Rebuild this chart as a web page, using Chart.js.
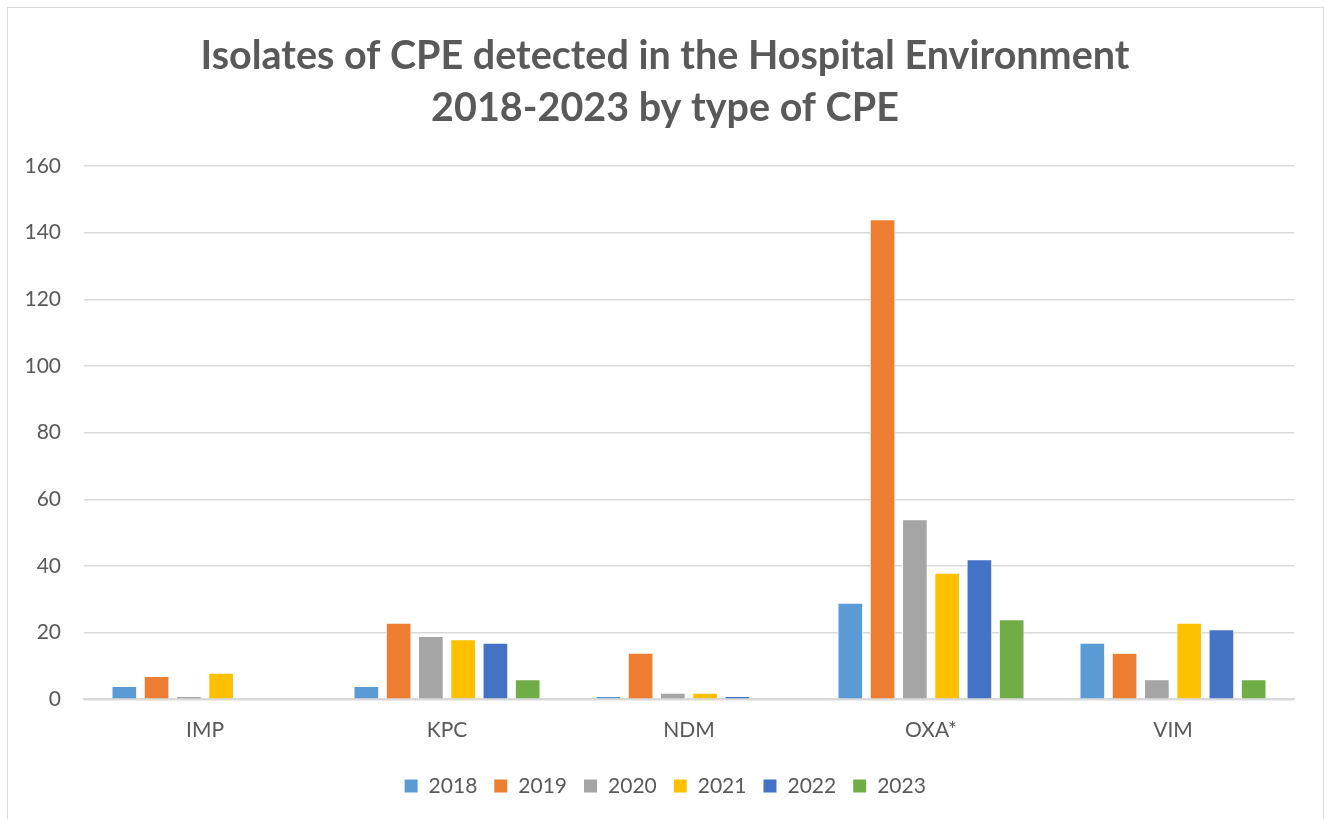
<!DOCTYPE html>
<html lang="en">
<head>
    <meta charset="UTF-8">
    <title>Isolates of CPE detected in the Hospital Environment</title>
    <script src="https://cdn.jsdelivr.net/npm/chart.js"></script>
    <style>
        body {
            margin: 0;
            background-color: #ffffff;
            overflow: hidden;
        }
        .frame {
            position: absolute;
            left: 7px;
            top: 7px;
            width: 1315px;
            height: 830px;
            border: 1px solid #d9d9d9;
        }
        .chart-box {
            position: absolute;
            left: 0;
            top: 0;
            width: 1314px;
            height: 811px;
        }
    </style>
</head>
<body>
    <div class="frame">
        <div class="chart-box">
            <canvas id="barChart"></canvas>
        </div>
    </div>

    <script>
        // categories and series
        const types = ["IMP", "KPC", "NDM", "OXA*", "VIM"];
        const years = ["2018", "2019", "2020", "2021", "2022", "2023"];
        const colors = ["#5b9bd5", "#ed7d31", "#a5a5a5", "#ffc000", "#4472c4", "#70ad47"];

        const y2018 = [4, 4, 1, 29, 17];
        const y2019 = [7, 23, 14, 144, 14];
        const y2020 = [1, 19, 2, 54, 6];
        const y2021 = [8, 18, 2, 38, 23];
        const y2022 = [0, 17, 1, 42, 21];
        const y2023 = [0, 6, 0, 24, 6];

        const yTicks = [0, 20, 40, 60, 80, 100, 120, 140, 160];

        const series = [y2018, y2019, y2020, y2021, y2022, y2023];

        const fontName = "Lato, 'Open Sans', sans-serif";
        const textColor = '#595959';

        // center title and legend on the whole frame, not on the area right of the y labels
        const centerBlocks = {
            id: 'centerBlocks',
            afterLayout(chart) {
                const pad = chart.width - chart.chartArea.right;
                if (chart.titleBlock) chart.titleBlock.left = pad;
                if (chart.legend) chart.legend.left = pad;
            }
        };

        const ctx = document.getElementById('barChart').getContext('2d');
        new Chart(ctx, {
            type: 'bar',
            data: {
                labels: types,
                datasets: series.map((vals, i) => ({
                    label: years[i],
                    data: vals,
                    backgroundColor: colors[i],
                    borderColor: '#ffffff',
                    borderWidth: 1,
                    categoryPercentage: 0.8,
                    barPercentage: 0.795
                }))
            },
            options: {
                responsive: true,
                maintainAspectRatio: false,
                animation: false,
                layout: {
                    padding: { left: 0, right: 28, top: 10, bottom: 12.5 }
                },
                scales: {
                    x: {
                        grid: { display: false },
                        border: { color: '#d9d9d9', width: 2 },
                        ticks: {
                            color: textColor,
                            font: { family: fontName, size: 21 },
                            padding: 10
                        },
                        afterFit: function(scale) {
                            scale.height += 6.5;
                        }
                    },
                    y: {
                        min: 0,
                        max: 160,
                        afterBuildTicks: function(scale) {
                            scale.ticks = yTicks.map(v => ({ value: v }));
                        },
                        afterFit: function(scale) {
                            scale.width = 76;
                        },
                        grid: { color: '#d9d9d9', lineWidth: 1.5, drawTicks: false },
                        border: { display: false },
                        ticks: {
                            color: textColor,
                            font: { family: fontName, size: 21 },
                            padding: 23
                        }
                    }
                },
                plugins: {
                    title: {
                        display: true,
                        text: ['Isolates of CPE detected in the Hospital Environment', '2018-2023 by type of CPE'],
                        color: textColor,
                        font: { family: fontName, size: 39.5, weight: 'bold', lineHeight: 1.316 },
                        padding: { top: 12, bottom: 32 }
                    },
                    legend: {
                        position: 'bottom',
                        labels: {
                            color: textColor,
                            font: { family: fontName, size: 21 },
                            boxWidth: 14,
                            boxHeight: 14,
                            padding: 16.5
                        }
                    },
                    tooltip: { enabled: false }
                }
            },
            plugins: [centerBlocks]
        });
    </script>
</body>
</html>
